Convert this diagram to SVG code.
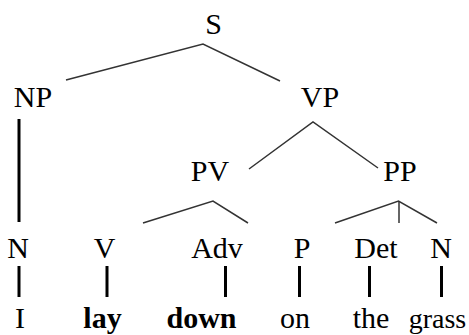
<svg xmlns="http://www.w3.org/2000/svg" width="469" height="335" viewBox="0 0 469 335">
<style>
text{font-size:30px;fill:#000;text-anchor:middle}
.b{font-weight:bold}
.sm{font-size:28px}
.thin{stroke:#333;stroke-width:1.5;fill:none}
.thick{stroke:#000;stroke-width:3;fill:none}
</style>
<rect width="469" height="335" fill="#fff"/>
<g id="connectors">
<polyline class="thin" points="66,80 203,44 280,81"/>
<polyline class="thin" points="249,169 313,122 378,168"/>
<polyline class="thin" points="143,223 213,201 248,223"/>
<polyline class="thin" points="335,223 398.5,201 437,223"/>
<line class="thin" x1="399" y1="201" x2="399" y2="223"/>
<line class="thick" x1="19" y1="119" x2="19" y2="222"/>
<line class="thick" x1="19" y1="266" x2="19" y2="297"/>
<line class="thick" x1="107" y1="266" x2="107" y2="297"/>
<line class="thick" x1="225.5" y1="266" x2="225.5" y2="297"/>
<line class="thick" x1="299.5" y1="266" x2="299.5" y2="297"/>
<line class="thick" x1="369.5" y1="266" x2="369.5" y2="297"/>
<line class="thick" x1="441.5" y1="266" x2="441.5" y2="297"/>
</g>
<g font-family="Times New Roman, Liberation Serif, DejaVu Serif, serif">
<g id="S"><text x="213.5" y="34">S</text></g>
<g id="NP"><text x="33" y="107">NP</text></g>
<g id="VP"><text x="320" y="107">VP</text></g>
<g id="PV"><text x="210" y="181">PV</text></g>
<g id="PP"><text x="400" y="181">PP</text></g>
<g id="N1"><text x="18" y="258">N</text></g>
<g id="V"><text x="104.5" y="258">V</text></g>
<g id="Adv"><text x="217" y="258">Adv</text></g>
<g id="P"><text x="302" y="258">P</text></g>
<g id="Det"><text x="376" y="258">Det</text></g>
<g id="N2"><text x="441" y="258">N</text></g>
<g id="w-I"><text x="20" y="328">I</text></g>
<g id="w-lay"><text class="b" x="102.5" y="328">lay</text></g>
<g id="w-down"><text class="b" x="201.5" y="328">down</text></g>
<g id="w-on"><text x="295" y="328">on</text></g>
<g id="w-the"><text x="371" y="328">the</text></g>
<g id="w-grass"><text class="sm" x="437.5" y="328">grass</text></g>
</g>
</svg>
